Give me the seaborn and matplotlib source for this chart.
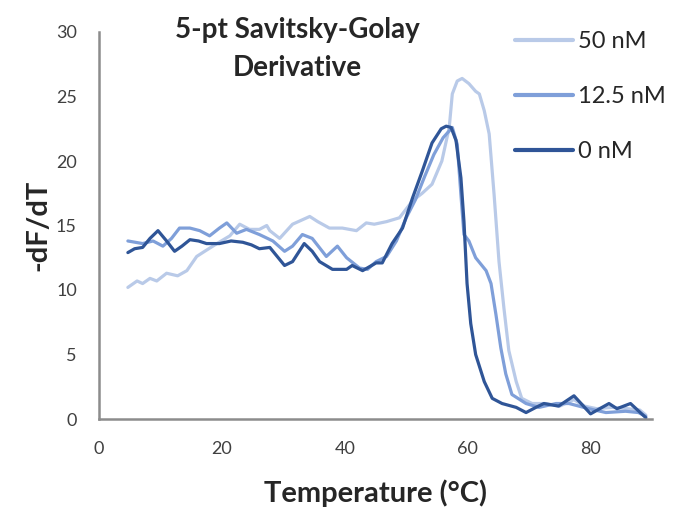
import matplotlib
matplotlib.use("Agg")
import matplotlib.pyplot as plt
import seaborn as sns
import pandas as pd

# ---- data ----
t_light = [4.7, 6.2, 7.1, 8.3, 9.4, 11.0, 12.8, 14.3, 15.9, 17.2, 19.2, 21.3, 22.9, 24.5, 26.1,
           27.3, 27.8, 29.4, 31.5, 34.3, 35.6, 37.5, 39.6, 41.9, 43.5, 44.8, 46.8, 48.9, 51.0, 52.6,
           54.2, 55.8, 57.0, 57.5, 58.3, 59.1, 60.2, 61.3, 61.9, 62.7, 63.5, 64.3, 65.1, 65.9, 66.7,
           67.9, 68.8, 70.5, 72.7, 75.0, 77.3, 79.0, 81.0, 83.5, 86.0, 88.0, 89.0]
y_light = [10.2, 10.7, 10.5, 10.9, 10.7, 11.3, 11.1, 11.5, 12.6, 13.0, 13.6, 14.2, 15.1, 14.7, 14.7,
           15.0, 14.6, 14.0, 15.1, 15.7, 15.3, 14.8, 14.8, 14.6, 15.2, 15.1, 15.3, 15.6, 16.9, 17.5,
           18.2, 20.0, 22.6, 25.2, 26.2, 26.4, 26.0, 25.4, 25.2, 23.9, 22.1, 17.4, 12.2, 8.6, 5.3,
           2.9, 1.6, 1.2, 1.2, 1.0, 1.5, 1.0, 0.8, 0.9, 0.8, 0.7, 0.3]

t_med = [4.7, 7.1, 8.8, 10.4, 11.8, 13.1, 14.8, 16.4, 18.0, 19.6, 20.8, 22.4, 24.0, 26.1, 28.3,
         30.2, 31.5, 33.1, 34.7, 37.0, 38.8, 40.3, 42.4, 43.7, 45.1, 46.8, 48.4, 50.0, 51.5, 53.0,
         54.5, 56.0, 57.5, 58.3, 58.9, 59.4, 60.2, 61.3, 63.0, 63.8, 64.6, 65.4, 66.2, 67.2, 69.5,
         71.6, 74.4, 76.5, 79.7, 82.5, 85.7, 87.8, 89.0]
y_med = [13.8, 13.6, 13.8, 13.4, 14.0, 14.8, 14.8, 14.6, 14.2, 14.8, 15.2, 14.4, 14.7, 14.3, 13.8,
         13.0, 13.4, 14.3, 14.0, 12.6, 13.4, 12.5, 11.7, 11.6, 12.2, 12.6, 13.8, 15.6, 17.0, 18.8,
         20.5, 21.8, 22.6, 21.3, 17.4, 14.3, 13.8, 12.5, 11.5, 10.5, 8.1, 5.5, 3.5, 1.9, 1.2,
         0.9, 1.2, 1.2, 0.8, 0.5, 0.6, 0.5, 0.2]

t_dark = [4.7, 5.8, 7.1, 8.3, 9.6, 11.0, 12.3, 13.5, 14.8, 16.2, 17.5, 19.6, 21.5, 23.4, 24.8,
          26.1, 27.8, 29.0, 30.2, 31.5, 33.4, 34.7, 35.9, 38.0, 40.3, 41.2, 42.9, 45.1, 46.1, 47.7,
          49.4, 51.0, 52.6, 54.2, 55.7, 56.5, 57.3, 58.1, 58.9, 59.4, 59.9, 60.5, 61.3, 62.7, 64.0,
          65.6, 67.9, 69.5, 71.1, 72.4, 74.8, 77.3, 80.0, 83.0, 84.3, 86.5, 89.0]
y_dark = [12.9, 13.2, 13.3, 14.0, 14.6, 13.8, 13.0, 13.4, 13.9, 13.8, 13.6, 13.6, 13.8, 13.7, 13.5,
          13.2, 13.3, 12.6, 11.9, 12.2, 13.6, 13.0, 12.2, 11.6, 11.6, 11.9, 11.5, 12.1, 12.1, 13.6,
          14.8, 17.1, 19.2, 21.4, 22.5, 22.7, 22.6, 21.6, 18.7, 15.3, 10.5, 7.4, 5.0, 2.9, 1.6,
          1.2, 0.9, 0.5, 0.9, 1.2, 1.0, 1.8, 0.4, 1.2, 0.8, 1.2, 0.1]

series_names = ["50 nM", "12.5 nM", "0 nM"]
colors = ["#b9cae8", "#7f9fd9", "#2f5597"]
x_ticks = [0, 20, 40, 60, 80]
y_ticks = [0, 5, 10, 15, 20, 25, 30]

df = pd.concat([
    pd.DataFrame({"T": t_light, "v": y_light, "s": series_names[0]}),
    pd.DataFrame({"T": t_med, "v": y_med, "s": series_names[1]}),
    pd.DataFrame({"T": t_dark, "v": y_dark, "s": series_names[2]}),
], ignore_index=True)

sns.set_style("white")
plt.rcParams["font.family"] = ["Lato", "DejaVu Sans"]

fig = plt.figure(figsize=(6.73, 5.08), dpi=100)
ax = fig.add_axes([99 / 673, 1 - 419 / 508, (652 - 99) / 673, (419 - 32) / 508])

sns.lineplot(data=df, x="T", y="v", hue="s", hue_order=series_names,
             palette=dict(zip(series_names, colors)), sort=False, estimator=None,
             linewidth=2.3, ax=ax)
for ln in ax.get_lines():
    ln.set_solid_joinstyle("round")
    ln.set_solid_capstyle("round")

ax.set_xlim(0, 90)
ax.set_ylim(0, 30)
ax.set_xticks(x_ticks)
ax.set_yticks(y_ticks)
ax.tick_params(axis="x", direction="in", length=6, width=1.6, color="#8c8c8c",
               labelsize=13, labelcolor="#404040", pad=16)
ax.tick_params(axis="y", direction="out", length=6, width=1.6, color="#8c8c8c",
               labelsize=13, labelcolor="#404040", pad=10)
for side in ["top", "right"]:
    ax.spines[side].set_visible(False)
for side in ["left", "bottom"]:
    ax.spines[side].set_color("#8c8c8c")
    ax.spines[side].set_linewidth(1.8)

ax.set_xlabel("Temperature (°C)", fontsize=21, fontweight="bold")
ax.set_ylabel("-dF/dT", fontsize=21, fontweight="bold")
ax.xaxis.set_label_coords(375 / 673, 1 - 493 / 508, transform=fig.transFigure)
ax.xaxis.label.set_va("center")
ax.yaxis.set_label_coords(38 / 673, 1 - 225 / 508, transform=fig.transFigure)
ax.yaxis.label.set_va("center")

fig.text(297 / 673, 1 - 30 / 508, "5-pt Savitsky-Golay", ha="center", va="center",
         fontsize=20, fontweight="bold")
fig.text(297 / 673, 1 - 68 / 508, "Derivative", ha="center", va="center",
         fontsize=20, fontweight="bold")

leg = ax.legend(title=None, loc="upper left", bbox_to_anchor=(494 / 673, 1 - 10 / 508),
                bbox_transform=fig.transFigure, frameon=False, fontsize=17,
                handlelength=2.45, handletextpad=0.2, labelspacing=1.44)
for h in leg.get_lines():
    h.set_linewidth(3)

fig.savefig("out.png", dpi=100)
